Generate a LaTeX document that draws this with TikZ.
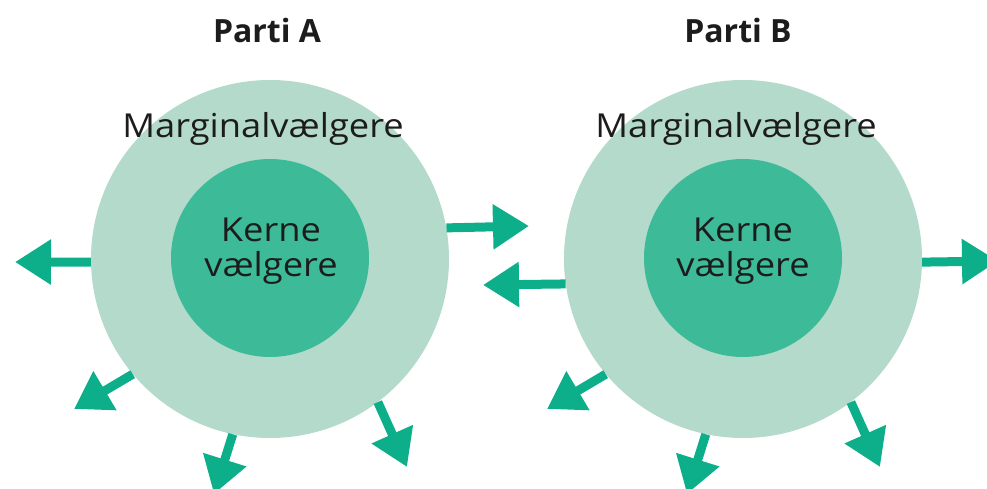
\documentclass[tikz,border=0pt]{standalone}
\usepackage{fontspec}
\setmainfont{Open Sans}
\newfontfamily\wide{Open Sans}[FakeStretch=1.1]
\usetikzlibrary{arrows.meta}
\definecolor{marg}{HTML}{B3DACB}
\definecolor{kern}{HTML}{3DBB99}
\definecolor{pil}{HTML}{0DAF8A}
\definecolor{skrift}{HTML}{1C1C1C}

\begin{document}
\begin{tikzpicture}[x=1pt, y=-1pt, outer/.style={circle, fill=marg, minimum size=358pt, inner sep=0pt}, inner/.style={circle, fill=kern, minimum size=198pt, inner sep=0pt}, txt/.style={text=skrift, inner sep=0pt, font=\wide\fontsize{33}{35}\selectfont}, head/.style={text=skrift, inner sep=0pt, font=\fontsize{32}{35}\selectfont\bfseries}, n/.style={draw=pil, line width=9pt, -{Triangle[length=36pt, width=43pt]}}]
        \useasboundingbox (0,0) rectangle (987,489);
        % nodes
        \node[outer] (A) at (270,259) {};
        \node[inner] (Ak) at (270,258) {};
        \node[outer] (B) at (743,259) {};
        \node[inner] (Bk) at (743,258) {};
        \node[head, anchor=base] (pA) at (267,43) {Parti A};
        \node[head, anchor=base] (pB) at (738,43) {Parti B};
        \node[txt, anchor=base] (mA) at (263,138) {Marginalvælgere};
        \node[txt, anchor=base] (mB) at (736,138) {Marginalvælgere};
        \node[txt, align=center, anchor=base] (kA) at (271,276) {Kerne\\vælgere};
        \node[txt, align=center, anchor=base] (kB) at (743,276) {Kerne\\vælgere};
        % arrow tips
        \coordinate (a1) at (15,262);
        \coordinate (a2) at (529,226);
        \coordinate (a3) at (74,409);
        \coordinate (a4) at (214,494);
        \coordinate (a5) at (407,467);
        \coordinate (b1) at (483,285);
        \coordinate (b2) at (998,261);
        \coordinate (b3) at (547,409);
        \coordinate (b4) at (687,494);
        \coordinate (b5) at (880,467);
        % edges
        \draw [n] (A.181) -- (a1);
        \draw [n] (A.10.6) -- (a2);
        \draw [n] (A.220) -- (a3);
        \draw [n] (A.258) -- (a4);
        \draw [n] (A.307) -- (a5);
        \draw [n] (B.188.4) -- (b1);
        \draw [n] (B.359.4) -- (b2);
        \draw [n] (B.220) -- (b3);
        \draw [n] (B.258) -- (b4);
        \draw [n] (B.307) -- (b5);
    \end{tikzpicture}
\end{document}
